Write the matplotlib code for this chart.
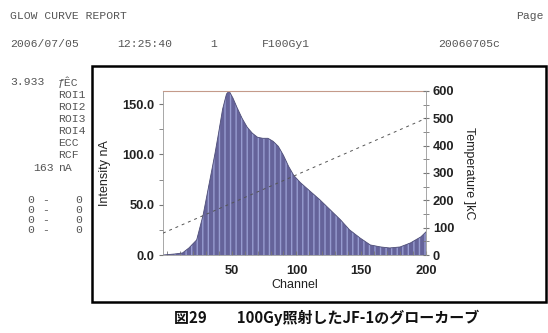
import numpy as np
import matplotlib.pyplot as plt
from matplotlib.patches import Rectangle
from matplotlib.ticker import MultipleLocator, FormatStrFormatter

# glow curve (channel, intensity nA)
channel = [-3, 6, 12, 17, 23, 25, 28, 31, 34, 37, 40, 43, 46, 48, 51, 54, 58, 62,
           66, 70, 74, 78, 82, 86, 90, 94, 98, 103, 110, 118, 126, 134, 141, 149,
           157, 165, 172, 180, 188, 192, 196, 200]
intensity = [0, 1, 2, 7, 15, 25, 40, 60, 80, 100, 122, 145, 160, 163, 156, 147, 136, 127,
             121, 117, 116, 116, 113, 108, 99, 88, 79, 72, 64, 55, 45, 35, 25, 17,
             10, 8, 7, 8, 12, 15, 18, 23]
# heating ramp
temp_channel = [-3, 200]
temperature = [80, 500]

channel_ticks = [50, 100, 150, 200]
header = ["GLOW CURVE REPORT", "Page"]
run_info = ["2006/07/05", "12:25:40", "1", "F100Gy1", "20060705c"]
side_labels = ["ƒÊC", "ROI1", "ROI2", "ROI3", "ROI4", "ECC", "RCF", "nA"]
caption = "図29　　100Gy照射したJF-1のグローカーブ"

W, H = 548, 333
fig = plt.figure(figsize=(W / 100, H / 100), dpi=100)
fig.patch.set_facecolor("white")


def fx(x):
    return x / W


def fy(y):
    return 1 - y / H


mono = dict(family="Liberation Mono", fontsize=8.2, color="#555555", va="center")

# report header
fig.text(fx(10), fy(16), header[0], **mono)
fig.text(fx(516), fy(16), header[1], **mono)
for x, s in zip([10, 117, 210, 262, 438], run_info):
    fig.text(fx(x), fy(44), s, **mono)

# left column
fig.text(fx(10), fy(82), "3.933", **mono)
ys = [82, 95, 107, 119, 131, 143, 155, 168]
for y, s in zip(ys, side_labels):
    fig.text(fx(58), fy(y), s, **mono)
fig.text(fx(33), fy(168), "163", **mono)
for y in [200, 210, 220, 230]:
    fig.text(fx(27), fy(y), "0", **mono)
    fig.text(fx(42), fy(y), "-", **mono)
    fig.text(fx(75), fy(y), "0", **mono)

# frame around the plot
fig.patches.append(Rectangle((fx(92), fy(302)), fx(546) - fx(92), fy(66) - fy(302),
                             transform=fig.transFigure, fill=False,
                             edgecolor="black", linewidth=1.8))

ax = fig.add_axes([fx(163), fy(255), fx(426) - fx(163), fy(91) - fy(255)])
ax.fill_between(channel, intensity, 0, facecolor="#65639a", edgecolor="#979cd0",
                hatch="|||", linewidth=0)
ax.plot(channel, intensity, color="#4e4e78", linewidth=0.6)
ax.set_xlim(-3, 200)
ax.set_ylim(0, 163)
ax.set_xticks(channel_ticks)
ax.xaxis.set_minor_locator(MultipleLocator(10))
ax.yaxis.set_major_locator(MultipleLocator(50))
ax.yaxis.set_minor_locator(MultipleLocator(25))
ax.yaxis.set_major_formatter(FormatStrFormatter("%.1f"))
ax.tick_params(axis="x", which="both", direction="in", length=3, color="#777777",
               labelsize=9.3, pad=7)
ax.tick_params(axis="y", which="both", direction="out", length=3, color="#777777",
               labelsize=9.3, pad=3)
for lab in ax.get_xticklabels() + ax.get_yticklabels():
    lab.set_fontfamily("Liberation Sans")
    lab.set_fontweight("bold")
    lab.set_color("#222222")
ax.spines["left"].set_color("#999999")
ax.spines["left"].set_linewidth(0.6)
ax.spines["bottom"].set_color("#999999")
ax.spines["bottom"].set_linewidth(0.6)
ax.spines["top"].set_color("#c49a8a")
ax.spines["top"].set_linewidth(0.8)
ax.spines["right"].set_visible(False)
ax.set_xlabel("Channel", family="Liberation Sans", fontsize=9, color="#222222",
              labelpad=2)
ax.set_ylabel("Intensity nA", family="Liberation Sans", fontsize=9,
              color="#222222", labelpad=8)

ax2 = ax.twinx()
ax2.plot(temp_channel, temperature, color="#555555", linewidth=0.7,
         dashes=(3, 4))
ax2.set_ylim(0, 600)
ax2.yaxis.set_major_locator(MultipleLocator(100))
ax2.yaxis.set_minor_locator(MultipleLocator(50))
ax2.tick_params(axis="y", which="both", direction="inout", length=4, color="#777777",
                labelsize=9.3, pad=3)
for lab in ax2.get_yticklabels():
    lab.set_fontfamily("Liberation Sans")
    lab.set_fontweight("bold")
    lab.set_color("#222222")
for side in ["left", "top", "bottom"]:
    ax2.spines[side].set_visible(False)
ax2.spines["right"].set_color("#999999")
ax2.spines["right"].set_linewidth(0.6)
ax2.set_ylabel("Temperature ]kC", family="Liberation Sans", fontsize=9,
               color="#222222", rotation=270, labelpad=15)

fig.text(fx(327), fy(318), caption, family=["Noto Sans CJK JP", "DejaVu Sans"],
         fontsize=10.8, fontweight="bold", ha="center", va="center", color="#111111")

fig.savefig("out.png", dpi=100, facecolor="white")
